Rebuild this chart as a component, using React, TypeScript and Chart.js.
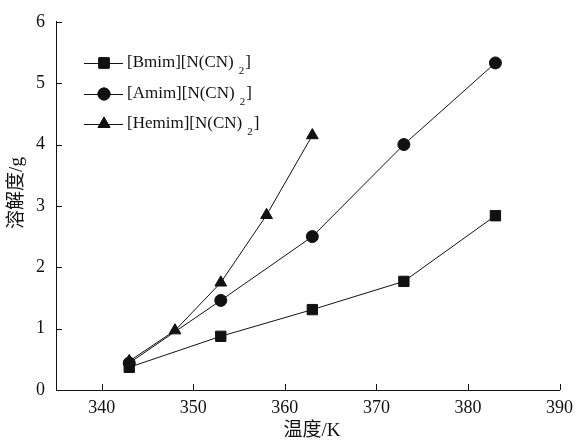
import React, { useEffect, useRef } from "react";
import { Chart, registerables } from "chart.js";
import { drawPoint } from "chart.js/helpers";

Chart.register(...registerables);

const seriesNames = ["[Bmim][N(CN)", "[Amim][N(CN)", "[Hemim][N(CN)"];
const seriesSub = "2";
const bmimT = [343, 353, 363, 373, 383];
const bmimS = [0.37, 0.875, 1.31, 1.77, 2.84];
const amimT = [343, 353, 363, 373, 383];
const amimS = [0.44, 1.46, 2.5, 4.0, 5.33];
const hemimT = [343, 348, 353, 358, 363];
const hemimS = [0.47, 0.97, 1.75, 2.85, 4.15];
const xTicks = [340, 350, 360, 370, 380, 390];
const yTicks = [0, 1, 2, 3, 4, 5, 6];
const xTitle = "温度/K";
const yTitle = "溶解度/g";

const FONT = "'Liberation Serif', 'Noto Sans CJK SC', serif";

const toPts = (xs: number[], ys: number[]) => xs.map((x, i) => ({ x, y: ys[i] }));

export default function App() {
  const ref = useRef<HTMLCanvasElement | null>(null);
  useEffect(() => {
    if (!ref.current) return;
    const styles = [
      { style: "rect", radius: 7.3 },
      { style: "circle", radius: 6 },
      { style: "triangle", radius: 6.8 },
    ];
    const ds = [
      toPts(bmimT, bmimS),
      toPts(amimT, amimS),
      toPts(hemimT, hemimS),
    ].map((data, i) => ({
      label: seriesNames[i] + seriesSub + "]",
      data,
      borderColor: "#111",
      backgroundColor: "#111",
      borderWidth: 1,
      pointStyle: styles[i].style as any,
      pointRadius: styles[i].radius,
      pointBorderWidth: 1,
      pointBackgroundColor: "#111",
      pointBorderColor: "#111",
      tension: 0,
    }));

    const tickPlugin = {
      id: "inwardTicks",
      afterDraw(chart: any) {
        const ctx = chart.ctx;
        const xs = chart.scales.x;
        const ys = chart.scales.y;
        const ca = chart.chartArea;
        ctx.save();
        ctx.strokeStyle = "#111";
        ctx.lineWidth = 1;
        ctx.beginPath();
        xTicks.forEach((v) => {
          const p = Math.round(xs.getPixelForValue(v)) + 0.5;
          ctx.moveTo(p, ca.bottom);
          ctx.lineTo(p, ca.bottom - 6);
        });
        yTicks.forEach((v) => {
          const p = Math.round(ys.getPixelForValue(v)) + 0.5;
          ctx.moveTo(ca.left, p);
          ctx.lineTo(ca.left + 6, p);
        });
        ctx.stroke();

        // axis titles
        ctx.fillStyle = "#111";
        ctx.font = "19px " + FONT;
        ctx.textAlign = "center";
        ctx.textBaseline = "middle";
        ctx.fillText(xTitle, 312, 431);
        ctx.save();
        ctx.translate(17, 193);
        ctx.rotate(-Math.PI / 2);
        ctx.fillText(yTitle, 0, 0);
        ctx.restore();

        // legend
        const rows = [63, 94, 124];
        ds.forEach((d, i) => {
          const y = rows[i];
          ctx.beginPath();
          ctx.moveTo(84, y + 0.5);
          ctx.lineTo(123, y + 0.5);
          ctx.stroke();
          ctx.fillStyle = "#111";
          drawPoint(ctx, { pointStyle: d.pointStyle, radius: d.pointRadius, borderWidth: 1, rotation: 0 } as any, 104, y);
          ctx.fill();
          ctx.stroke();
          ctx.font = "17px " + FONT;
          ctx.textBaseline = "middle";
          ctx.textAlign = "left";
          const t = seriesNames[i];
          ctx.fillText(t, 127, y);
          const w = ctx.measureText(t).width;
          ctx.font = "11px " + FONT;
          ctx.fillText(seriesSub, 127 + w + 5, y + 8);
          const w2 = ctx.measureText(seriesSub).width;
          ctx.font = "17px " + FONT;
          ctx.fillText("]", 127 + w + 5 + w2 + 1, y);
        });
        ctx.restore();
      },
    };

    const chart = new Chart(ref.current, {
      type: "line",
      data: { datasets: ds as any },
      plugins: [tickPlugin],
      options: {
        animation: false,
        responsive: false,
        maintainAspectRatio: false,
        layout: { padding: { left: 0, top: 20, right: 19, bottom: 0 } },
        plugins: { legend: { display: false }, tooltip: { enabled: false } },
        scales: {
          x: {
            type: "linear",
            min: 335,
            max: 390,
            afterBuildTicks: (s: any) => {
              s.ticks = xTicks.map((v) => ({ value: v }));
            },
            afterFit: (s: any) => {
              s.height = 52;
            },
            grid: { display: true, drawOnChartArea: false, drawTicks: false, color: "transparent" },
            border: { display: true, color: "#111", width: 1 },
            ticks: { color: "#111", font: { family: FONT, size: 18 }, padding: 7, maxRotation: 0 },
          },
          y: {
            type: "linear",
            min: 0,
            max: 6,
            afterBuildTicks: (s: any) => {
              s.ticks = yTicks.map((v) => ({ value: v }));
            },
            afterFit: (s: any) => {
              s.width = 56;
            },
            grid: { display: true, drawOnChartArea: false, drawTicks: false, color: "transparent" },
            border: { display: true, color: "#111", width: 1 },
            ticks: { color: "#111", font: { family: FONT, size: 18 }, padding: 11 },
          },
        },
      },
    });
    return () => chart.destroy();
  }, []);
  return (
    <div style={{ position: "fixed", left: 0, top: 0, width: 580, height: 442, background: "#fff" }}>
      <canvas ref={ref} width={580} height={442} style={{ width: 580, height: 442 }} />
    </div>
  );
}
